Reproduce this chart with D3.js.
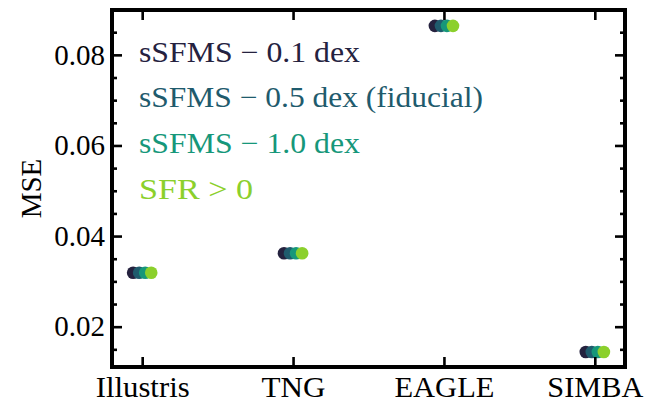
<!DOCTYPE html>
<html><head><meta charset="utf-8">
<script src="https://cdn.jsdelivr.net/npm/d3@7"></script>
<style>body{margin:0;background:#fff}svg{display:block}</style>
</head><body><svg id="c" width="656" height="404"></svg>
<script>
const categories = ["Illustris","TNG","EAGLE","SIMBA"];
const seriesNames = ["sSFMS \u2212 0.1 dex","sSFMS \u2212 0.5 dex (fiducial)","sSFMS \u2212 1.0 dex","SFR > 0"];
const seriesColors = ["#25223f","#1f5b6d","#16977a","#8bd02c"];
const mse01 = [0.0319,0.0362,0.0864,0.0144];
const mse05 = [0.0319,0.0362,0.0864,0.0144];
const mse10 = [0.0319,0.0362,0.0864,0.0144];
const mseSFR = [0.0319,0.0362,0.0864,0.0144];
const yTicks = [0.02,0.04,0.06,0.08];
const yTickLabels = ["0.02","0.04","0.06","0.08"];
const series = [mse01, mse05, mse10, mseSFR];

const FONT = "Liberation Serif, DejaVu Serif, serif";
const W=656,H=404, L=112,R=625,T=10,B=367;
const svg=d3.select("#c");
const x=d3.scaleLinear().domain([-0.2,3.2]).range([L,R]);
const y=d3.scaleLinear().domain([0.0111,0.0899]).range([B,T]);
const dodge=[-0.06,-0.02,0.02,0.06];

// points
series.forEach((vals,si)=>{
  svg.append("g").selectAll("circle").data(vals).join("circle")
    .attr("cx",(d,i)=>x(i+dodge[si])).attr("cy",d=>y(d)).attr("r",6.3)
    .attr("fill",seriesColors[si]);
});

// axes
const fs=29;
const minor=d3.range(0.015,0.0899,0.005).filter(v=>!yTicks.some(t=>Math.abs(t-v)<1e-9));
const left=d3.axisLeft(y).tickValues(yTicks).tickFormat((d,i)=>yTickLabels[i]).tickSizeInner(-10).tickSizeOuter(0).tickPadding(7);
const gL=svg.append("g").attr("transform",`translate(${L},0)`).call(left);
const gLm=svg.append("g").attr("transform",`translate(${L},0)`).call(d3.axisLeft(y).tickValues(minor).tickFormat("").tickSizeInner(-5).tickSizeOuter(0));
const gR=svg.append("g").attr("transform",`translate(${R},0)`).call(d3.axisRight(y).tickValues(yTicks).tickFormat("").tickSizeInner(-10).tickSizeOuter(0));
const gRm=svg.append("g").attr("transform",`translate(${R},0)`).call(d3.axisRight(y).tickValues(minor).tickFormat("").tickSizeInner(-5).tickSizeOuter(0));
const gB=svg.append("g").attr("transform",`translate(0,${B})`).call(d3.axisBottom(x).tickValues([0,1,2,3]).tickFormat(i=>categories[i]).tickSizeInner(-10).tickSizeOuter(0).tickPadding(9));
const gT=svg.append("g").attr("transform",`translate(0,${T})`).call(d3.axisTop(x).tickValues([0,1,2,3]).tickFormat("").tickSizeInner(-10).tickSizeOuter(0));
[gL,gLm,gR,gRm,gB,gT].forEach(g=>{
  g.attr("font-family",FONT).attr("font-size",fs);
  g.select(".domain").remove();
  g.selectAll(".tick line").attr("stroke","#000").attr("stroke-width",2.6);
  g.selectAll("text").attr("fill","#000");
});
gB.selectAll("text").attr("textLength",(d,i)=>[94,64,100,96][i]).attr("lengthAdjust","spacingAndGlyphs");

// frame
svg.append("rect").attr("x",L).attr("y",T).attr("width",R-L).attr("height",B-T)
  .attr("fill","none").attr("stroke","#000").attr("stroke-width",4);

// y label
svg.append("text").attr("transform",`translate(41,${(T+B)/2}) rotate(-90)`)
  .attr("text-anchor","middle").attr("font-family",FONT).attr("font-size",fs).attr("fill","#000").text("MSE");

// legend
const legendWidths=[221,344,221,114];
seriesNames.forEach((n,i)=>{
  svg.append("text").attr("x",139).attr("y",61.7+i*45.7).attr("fill",seriesColors[i])
    .attr("font-family",FONT).attr("font-size",29)
    .attr("textLength",legendWidths[i]).attr("lengthAdjust","spacingAndGlyphs").text(n);
});
</script></body></html>
